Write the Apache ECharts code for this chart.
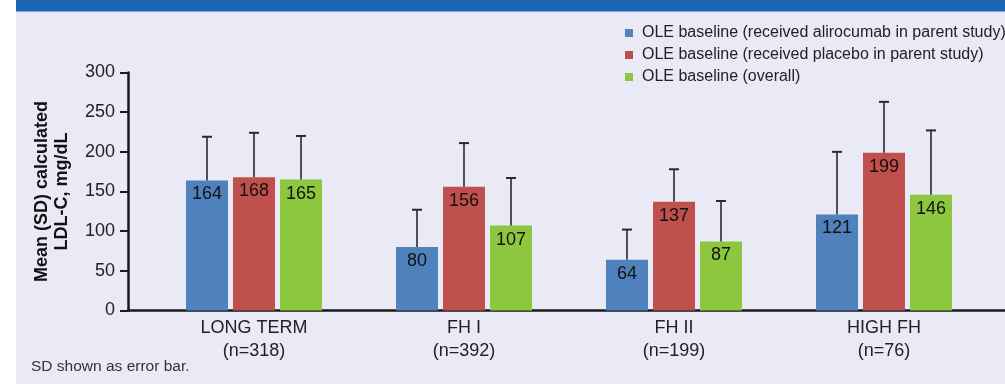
<!DOCTYPE html>
<html>
<head>
<meta charset="utf-8">
<script src="https://cdn.jsdelivr.net/npm/echarts@6/dist/echarts.min.js"></script>
<style>
html,body{margin:0;padding:0;background:#ffffff;}
#bg{position:absolute;left:16px;top:0;width:989px;height:384px;background:#e9eaf6;}
#band{position:absolute;left:16px;top:0;width:989px;height:11px;background:#1a67b3;border-bottom:1px solid #7fa6d8;}
#chart{position:absolute;left:0;top:0;width:1005px;height:384px;}
</style>
</head>
<body>
<div id="bg"></div>
<div id="band"></div>
<div id="chart"></div>
<script>
// ---- data ----
var categories = ['LONG TERM\n(n=318)', 'FH I\n(n=392)', 'FH II\n(n=199)', 'HIGH FH\n(n=76)'];
var seriesNames = [
  'OLE baseline (received alirocumab in parent study)',
  'OLE baseline (received placebo in parent study)',
  'OLE baseline (overall)'
];
var alirocumabMean = [164, 80, 64, 121];
var placeboMean = [168, 156, 137, 199];
var overallMean = [165, 107, 87, 146];
var alirocumabSD = [55, 47, 38, 79];
var placeboSD = [56, 55, 41, 64];
var overallSD = [55, 60, 51, 81];
var yTicks = [0, 50, 100, 150, 200, 250, 300];
var footnote = 'SD shown as error bar.';
var yTitle = 'Mean (SD) calculated\nLDL-C, mg/dL';

// ---- styling ----
var colors = ['#4f81bd', '#c0504d', '#8dc63f'];
var FONT = '"Liberation Sans", Arial, Helvetica, sans-serif';
var BAR_W = 42, BAR_GAP = 5;

var means = [alirocumabMean, placeboMean, overallMean];
var sds = [alirocumabSD, placeboSD, overallSD];

var chart = echarts.init(document.getElementById('chart'), null, {renderer: 'canvas'});

var series = [];
means.forEach(function (arr, si) {
  series.push({
    name: seriesNames[si],
    type: 'bar',
    xAxisIndex: 0, yAxisIndex: 0,
    data: arr,
    barWidth: BAR_W,
    barGap: (BAR_GAP / BAR_W * 100) + '%',
    itemStyle: {color: colors[si]},
    label: {
      show: true, position: 'insideTop', distance: 5,
      color: '#111', fontSize: 18, fontFamily: FONT
    },
    z: 2
  });
});
means.forEach(function (arr, si) {
  var d = arr.map(function (v, i) { return [i, v, sds[si][i]]; });
  series.push({
    type: 'custom',
    xAxisIndex: 0, yAxisIndex: 0,
    data: d,
    z: 3,
    silent: true,
    renderItem: function (params, api) {
      var i = api.value(0), m = api.value(1), s = api.value(2);
      var p0 = api.coord([i, m]);
      var p1 = api.coord([i, m + s]);
      var x = p0[0] + (si - 1) * (BAR_W + BAR_GAP);
      var st = {stroke: '#2a2a2a', lineWidth: 1.6};
      return {
        type: 'group',
        children: [
          {type: 'line', shape: {x1: x, y1: p0[1], x2: x, y2: p1[1]}, style: st},
          {type: 'line', shape: {x1: x - 5, y1: p1[1], x2: x + 5, y2: p1[1]}, style: {stroke: '#2a2a2a', lineWidth: 2}}
        ]
      };
    }
  });
});

var option = {
  animation: false,
  backgroundColor: 'transparent',
  textStyle: {fontFamily: FONT},
  title: {
    text: footnote,
    left: 31, top: 359, padding: 0,
    textStyle: {fontSize: 15.5, fontWeight: 'normal', color: '#333', fontFamily: FONT}
  },
  legend: {
    orient: 'vertical',
    left: 625, top: 25, padding: 0,
    itemWidth: 8, itemHeight: 8, itemGap: 6,
    icon: 'rect',
    data: seriesNames,
    textStyle: {fontSize: 16, color: '#222', fontFamily: FONT, lineHeight: 16, padding: [0, 0, 0, 4]}
  },
  grid: [
    {left: 149, right: 16, top: 72.5, bottom: 73.5},
    {left: 128, right: 0, top: 72.5, bottom: 73.5}
  ],
  xAxis: [
    {
      type: 'category', gridIndex: 0, data: categories,
      axisLine: {show: false}, axisTick: {show: false},
      axisLabel: {color: '#222', fontSize: 18, lineHeight: 23, margin: 6, fontFamily: FONT, interval: 0}
    },
    {
      type: 'value', gridIndex: 1, min: 0, max: 1,
      axisLine: {show: true, onZero: false, lineStyle: {color: '#1a1a1a', width: 2.5}},
      axisTick: {show: false}, axisLabel: {show: false}, splitLine: {show: false}
    }
  ],
  yAxis: [
    {
      type: 'value', gridIndex: 0, min: 0, max: 300, interval: 50,
      show: false
    },
    {
      type: 'value', gridIndex: 1, min: yTicks[0], max: yTicks[yTicks.length - 1],
      interval: yTicks[1] - yTicks[0],
      name: yTitle,
      nameLocation: 'middle', nameRotate: 90, nameGap: 56,
      nameTextStyle: {fontSize: 18, fontWeight: 'bold', color: '#111', lineHeight: 20, fontFamily: FONT},
      axisLine: {show: true, lineStyle: {color: '#1a1a1a', width: 2.5}},
      axisTick: {show: true, length: 8, lineStyle: {color: '#1a1a1a', width: 2}},
      axisLabel: {color: '#222', fontSize: 18, margin: 13, fontFamily: FONT},
      splitLine: {show: false}
    }
  ],
  series: series
};
chart.setOption(option);
</script>
</body>
</html>
